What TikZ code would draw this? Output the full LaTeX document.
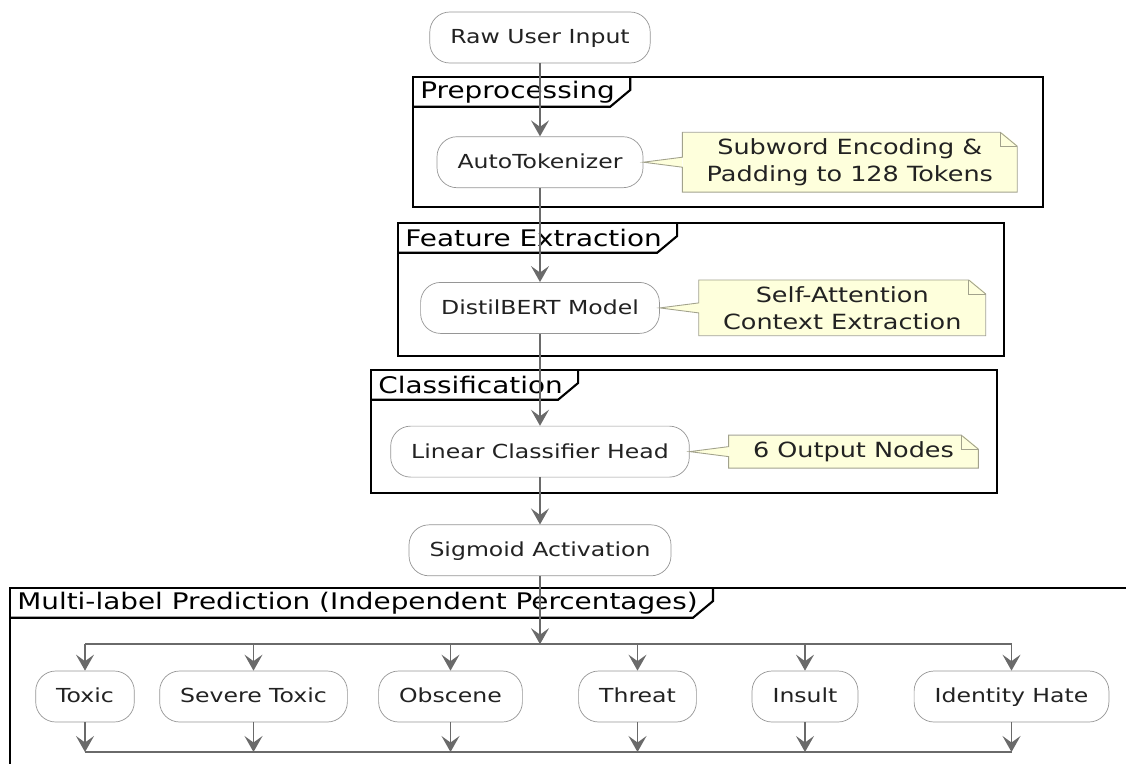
\documentclass[tikz,border=0pt]{standalone}
\usepackage{fontspec}
\setmainfont{DejaVu Sans}[FakeStretch=1.22]
\usetikzlibrary{positioning,arrows.meta}

\definecolor{linkgray}{HTML}{6A6A6A}
\definecolor{boxgray}{HTML}{969696}
\definecolor{notebg}{HTML}{FEFFDC}
\definecolor{noteedge}{HTML}{A2A28C}
\definecolor{inkgray}{HTML}{222222}

% note body with folded corner and pointer to its activity
\newcommand{\notecallout}[2]{%
  \fill[notebg] (#2.east) -- ([yshift=0.1cm]#1.west) -- ([yshift=-0.1cm]#1.west) -- cycle;
  \fill[white] ([xshift=-0.34cm,yshift=0.03cm]#1.north east) -- ([xshift=0.03cm,yshift=0.03cm]#1.north east) -- ([xshift=0.03cm,yshift=-0.28cm]#1.north east) -- cycle;
  \draw[noteline] ([yshift=0.1cm]#1.west) -- (#1.north west) -- ([xshift=-0.34cm]#1.north east) -- ([yshift=-0.28cm]#1.north east) -- (#1.south east) -- (#1.south west) -- ([yshift=-0.1cm]#1.west) -- (#2.east) -- cycle;
  \draw[noteline] ([xshift=-0.34cm]#1.north east) |- ([yshift=-0.28cm]#1.north east);
}
% title tab of a group frame
\newcommand{\frametab}[1]{%
  \draw[frameline] ([xshift=0.16cm]#1.north east) -- ([xshift=0.16cm,yshift=-0.26cm]#1.north east) -- ([xshift=-0.24cm]#1.south east) -- (#1.south west);
}

\begin{document}
\begin{tikzpicture}[
    node distance=0.94cm and 0.78cm,
    act/.style={rectangle, draw=boxgray, rounded corners=0.4cm, fill=white, minimum height=1.02cm, inner xsep=0.41cm, text height=0.95em, text depth=0.22em, font=\fontsize{11}{13}\selectfont, text=inkgray},
    note/.style={rectangle, fill=notebg, inner xsep=0.48cm, inner ysep=0.12cm, align=center, font=\fontsize{11.9}{15.3}\selectfont, text=inkgray},
    noteline/.style={draw=noteedge, line width=0.5pt, line join=miter},
    frameline/.style={draw=black, line width=1.2pt},
    frametitle/.style={anchor=north west, inner xsep=0.14cm, inner ysep=0pt, minimum height=0.58cm, font=\fontsize{13}{15}\selectfont, text=black},
    flow/.style={-{Stealth[length=0.32cm, width=0.36cm, inset=0.13cm]}, draw=linkgray, line width=0.85pt},
    link/.style={draw=linkgray, line width=0.85pt}
]
\useasboundingbox (0,0) rectangle (22.52,-15.26);

% --- Group frames ---
\draw[frameline] (8.26,-1.54) coordinate (preNW) rectangle (20.86,-4.14);
\node[frametitle] (pretitle) at (preNW) {Preprocessing};
\frametab{pretitle}

\draw[frameline] (7.96,-4.46) coordinate (featNW) rectangle (20.08,-7.12);
\node[frametitle] (feattitle) at (featNW) {Feature Extraction};
\frametab{feattitle}

\draw[frameline] (7.42,-7.40) coordinate (clsNW) rectangle (19.94,-9.86);
\node[frametitle] (clstitle) at (clsNW) {Classification};
\frametab{clstitle}

\draw[frameline] (22.6,-11.76) -- (0.20,-11.76) coordinate (multiNW) -- (0.20,-15.4);
\node[frametitle] (multititle) at (multiNW) {Multi-label Prediction (Independent Percentages)};
\frametab{multititle}

% --- Pipeline ---
\node[act] (raw) at (10.8,-0.75) {Raw User Input};
\node[act, below=1.46cm of raw] (tok) {AutoTokenizer};
\node[act, below=1.88cm of tok] (distil) {DistilBERT Model};
\node[act, below=1.84cm of distil] (lin) {Linear Classifier Head};
\node[act, below=of lin] (sig) {Sigmoid Activation};

% --- Notes ---
\node[note, right=of tok] (tokmemo) {Subword Encoding \&\\Padding to 128 Tokens};
\notecallout{tokmemo}{tok}
\node[note, right=of distil] (distilmemo) {Self-Attention\\Context Extraction};
\notecallout{distilmemo}{distil}
\node[note, right=of lin] (linmemo) {6 Output Nodes};
\notecallout{linmemo}{lin}

\draw[flow] (raw) -- (tok);
\draw[flow] (tok) -- (distil);
\draw[flow] (distil) -- (lin);
\draw[flow] (lin) -- (sig);

% --- Label outputs ---
\node[act] (toxic) at (1.70,-13.93) {Toxic};
\node[act] (severe) at (5.07,-13.93) {Severe Toxic};
\node[act] (obscene) at (9.01,-13.93) {Obscene};
\node[act] (threat) at (12.75,-13.93) {Threat};
\node[act] (insult) at (16.10,-13.93) {Insult};
\node[act] (hate) at (20.23,-13.93) {Identity Hate};

\coordinate[below=1.36cm of sig] (forkin);
\coordinate (joinout) at (10.8,-15.04);

\draw[flow] (sig) -- (forkin);
\draw[link] (toxic |- forkin) -- (hate |- forkin);
\draw[link] (toxic |- joinout) -- (hate |- joinout);
\foreach \lbl in {toxic,severe,obscene,threat,insult,hate}{
  \draw[flow] (\lbl |- forkin) -- (\lbl);
  \draw[flow] (\lbl) -- (\lbl |- joinout);
}

\end{tikzpicture}
\end{document}
